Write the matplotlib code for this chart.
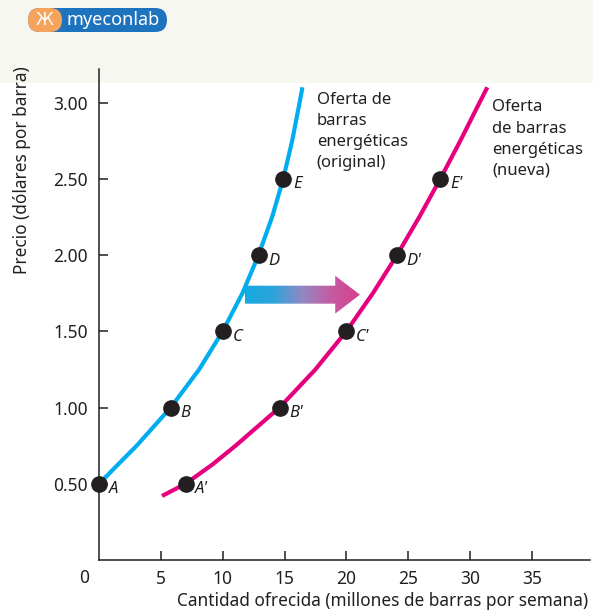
import matplotlib.pyplot as plt
import numpy as np
from matplotlib.patches import Polygon, FancyBboxPatch, Rectangle
from matplotlib.colors import LinearSegmentedColormap

plt.rcParams['font.family'] = ['Noto Sans', 'DejaVu Sans']

# points on the two supply curves (quantity in millions, price in dollars)
pt_labels = ['A', 'B', 'C', 'D', 'E']
new_labels = ["A'", "B'", "C'", "D'", "E'"]
prices = [0.50, 1.00, 1.50, 2.00, 2.50]
qty_orig = [0, 5.8, 10, 12.9, 14.9]
qty_new = [7, 14.6, 20, 24.1, 27.6]

# curve traces
curve_orig_q = [0, 3.05, 5.8, 8.1, 10, 11.6, 12.9, 14.0, 14.9, 15.62, 16.22, 16.45]
curve_orig_p = [0.50, 0.75, 1.00, 1.25, 1.50, 1.75, 2.00, 2.25, 2.50, 2.75, 3.00, 3.10]
curve_new_q = [5.1, 7, 9.15, 11.05, 14.6, 17.5, 20, 22.15, 24.1, 25.9, 27.6, 29.22, 30.77, 31.4]
curve_new_p = [0.42, 0.50, 0.625, 0.75, 1.00, 1.25, 1.50, 1.75, 2.00, 2.25, 2.50, 2.75, 3.00, 3.10]

xticks = [5, 10, 15, 20, 25, 30, 35]
yticks = [0.50, 1.00, 1.50, 2.00, 2.50, 3.00]
ytick_labels = ['0.50', '1.00', '1.50', '2.00', '2.50', '3.00']

BLUE = '#00aeef'
PINK = '#e6007e'
DARK = '#231f20'

fig = plt.figure(figsize=(5.93, 6.12), dpi=100)
fig.patch.set_facecolor('white')

# cream header band
fig.patches.append(Rectangle((0, 1 - 83 / 612), 1, 83 / 612, transform=fig.transFigure,
                             facecolor='#f7f7f1', edgecolor='none', zorder=-10))

ax = fig.add_axes([99 / 593, 1 - 560 / 612, 491 / 593, 491 / 612])
ax.patch.set_alpha(0)

ax.plot(curve_orig_q, curve_orig_p, color=BLUE, lw=3, solid_capstyle='butt',
        solid_joinstyle='round', zorder=3)
ax.plot(curve_new_q, curve_new_p, color=PINK, lw=3, solid_capstyle='butt',
        solid_joinstyle='round', zorder=3)

ax.plot(qty_orig, prices, 'o', color=DARK, ms=11, zorder=5, clip_on=False)
ax.plot(qty_new, prices, 'o', color=DARK, ms=11, zorder=5, clip_on=False)

for q, p, lab in zip(qty_orig, prices, pt_labels):
    ax.annotate(lab, (q, p), xytext=(7, -4), textcoords='offset points',
                ha='left', va='center', fontsize=12, style='italic', color=DARK)
for q, p, lab in zip(qty_new, prices, new_labels):
    ax.annotate(lab, (q, p), xytext=(7, -4), textcoords='offset points',
                ha='left', va='center', fontsize=12, style='italic', color=DARK)

# gradient arrow showing the shift
a_q0, a_qh, a_q1, a_p = 11.8, 19.1, 21.1, 1.74
shaft_h, head_h = 0.059, 0.124
verts = [(a_q0, a_p - shaft_h), (a_qh, a_p - shaft_h), (a_qh, a_p - head_h), (a_q1, a_p),
         (a_qh, a_p + head_h), (a_qh, a_p + shaft_h), (a_q0, a_p + shaft_h)]
arrow = Polygon(verts, closed=True, facecolor='none', edgecolor='none')
ax.add_patch(arrow)
cmap = LinearSegmentedColormap.from_list('shift', ['#14a9e0', '#2fa4dc', '#9487c2', '#c65aa0', '#d6408f'])
grad = np.linspace(0, 1, 256).reshape(1, -1)
im = ax.imshow(grad, cmap=cmap, aspect='auto', extent=(a_q0, a_q1, a_p - head_h, a_p + head_h), zorder=2)
im.set_clip_path(arrow)

ax.set_xlim(0, 39.7)
ax.set_ylim(0, 3.22)
ax.set_xticks(xticks)
ax.set_xticklabels([str(t) for t in xticks])
ax.set_yticks(yticks)
ax.set_yticklabels(ytick_labels)
ax.tick_params(direction='in', length=6.5, width=1.1, color=DARK, labelsize=12.5, labelcolor=DARK)
ax.tick_params(axis='x', pad=7)
ax.tick_params(axis='y', pad=8)
for s in ['top', 'right']:
    ax.spines[s].set_visible(False)
for s in ['left', 'bottom']:
    ax.spines[s].set_color(DARK)
    ax.spines[s].set_linewidth(1.1)

fig.text(84 / 593, 1 - 578 / 612, '0', ha='center', va='center', fontsize=12.5, color=DARK)

ax.text(17.6, 3.07, 'Oferta de\nbarras\nenergéticas\n(original)', ha='left', va='top',
        fontsize=12, linespacing=1.42, color=DARK)
ax.text(31.8, 3.02, 'Oferta\nde barras\nenergéticas\n(nueva)', ha='left', va='top',
        fontsize=12, linespacing=1.42, color=DARK)

fig.text(22 / 593, 1 - 66 / 612, 'Precio (dólares por barra)', rotation=90,
         ha='center', va='top', fontsize=12.4, color=DARK)
fig.text(588 / 593, 1 - 601 / 612, 'Cantidad ofrecida (millones de barras por semana)',
         ha='right', va='center', fontsize=12.4, color=DARK)

# myeconlab badge
fig.patches.append(FancyBboxPatch((28 / 593, 1 - 32 / 612), 139 / 593, 24 / 612,
                                  boxstyle='round,pad=0,rounding_size=0.02',
                                  transform=fig.transFigure, facecolor='#1e73be',
                                  edgecolor='none', zorder=1))
fig.patches.append(FancyBboxPatch((28 / 593, 1 - 32 / 612), 34 / 593, 24 / 612,
                                  boxstyle='round,pad=0,rounding_size=0.02',
                                  transform=fig.transFigure, facecolor='#f6a35c',
                                  edgecolor='none', zorder=2))
fig.text(45 / 593, 1 - 20 / 612, 'Ж', ha='center', va='center', fontsize=12,
         color='white', family='DejaVu Sans', zorder=3)
fig.text(113 / 593, 1 - 20 / 612, 'myeconlab', ha='center', va='center', fontsize=13,
         color='white', weight='bold', zorder=3)

fig.savefig('out.png', dpi=100)
